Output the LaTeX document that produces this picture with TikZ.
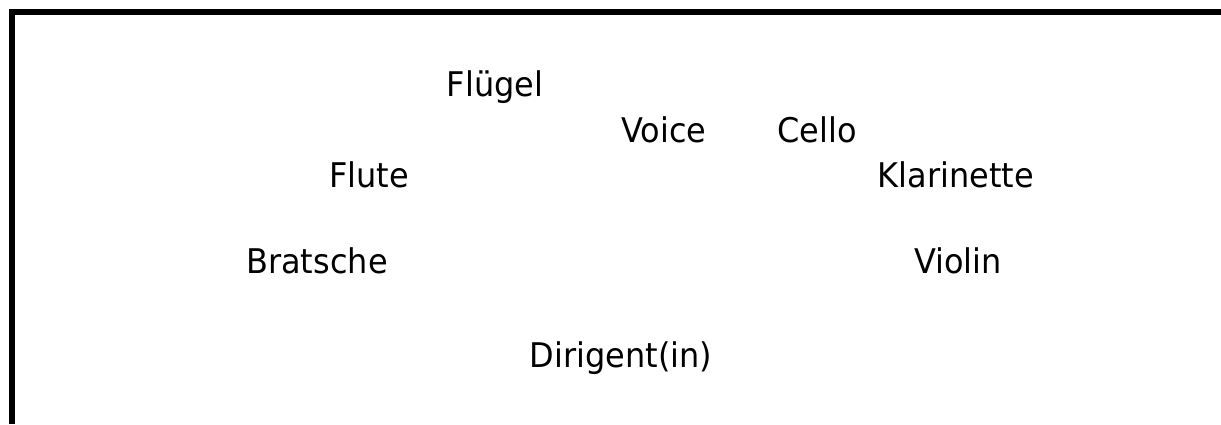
\documentclass[tikz,border=0pt]{standalone}
\usepackage{fontspec}
\setmainfont{DejaVu Sans}[FakeStretch=0.94]
\begin{document}
\begin{tikzpicture}[x=1pt,y=1pt,
  lbl/.style={anchor=base,inner sep=0pt,font=\fontsize{34}{40}\selectfont}]
\useasboundingbox (0,0) rectangle (1221,424);
\fill[white] (0,0) rectangle (1221,424);
\coordinate (fa) at (12,0);
\coordinate (fb) at (12,412);
\coordinate (fc) at (1221,412);
\draw[line width=6pt] (fa) -- (fb) -- (fc);
\node[lbl] (fluegel) at (495,327) {Flügel};
\node[lbl] (voice) at (664,282) {Voice};
\node[lbl] (cello) at (817,282) {Cello};
\node[lbl] (flute) at (369,237) {Flute};
\node[lbl] (klar) at (956,237) {Klarinette};
\node[lbl] (bratsche) at (317,151) {Bratsche};
\node[lbl] (violin) at (958,151) {Violin};
\node[lbl] (dirigent) at (621,57) {Dirigent(in)};
\end{tikzpicture}
\end{document}
